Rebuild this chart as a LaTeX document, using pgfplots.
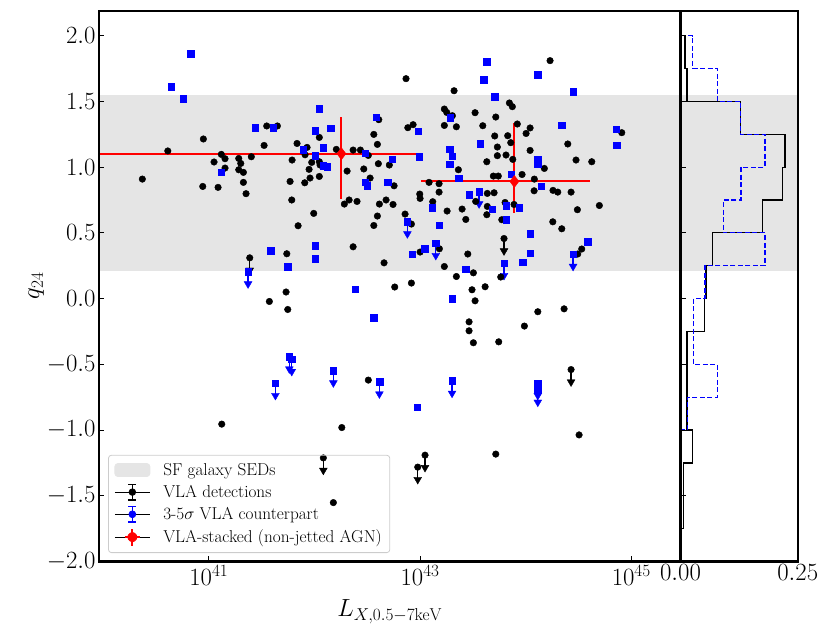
\documentclass[border=0pt]{standalone}
\usepackage{pgfplots}
\pgfplotsset{compat=1.18}
\usepackage{pgfplotstable}
\definecolor{bandgray}{RGB}{229,229,229}
\definecolor{legedge}{RGB}{204,204,204}

% black VLA detections: log10(L_X), q24
\pgfplotstableread{
lx q
41.548 1.313
41.649 1.313
40.948 1.214
41.523 1.165
41.835 1.180
40.611 1.123
41.118 1.097
41.153 1.064
41.283 1.066
41.402 1.079
41.049 1.039
41.302 1.028
41.788 1.054
41.153 0.993
41.283 0.980
41.327 0.960
40.370 0.909
40.942 0.853
41.087 0.846
41.327 0.884
41.769 0.891
41.352 0.798
41.785 0.750
42.867 1.673
43.322 1.581
43.230 1.442
43.253 1.416
43.306 1.391
42.609 1.361
43.521 1.414
42.884 1.300
42.934 1.323
43.230 1.317
43.344 1.307
43.594 1.315
42.562 1.249
42.046 1.226
42.596 1.173
41.930 1.150
42.207 1.135
42.366 1.130
42.435 1.130
42.510 1.089
41.911 1.094
41.974 1.036
42.046 1.041
42.053 1.016
43.632 1.041
42.605 1.026
42.709 1.016
41.949 0.983
42.309 0.970
42.467 0.986
42.046 0.929
41.958 0.917
42.527 0.917
43.363 0.980
41.908 0.881
42.754 0.858
43.085 0.884
43.180 0.874
43.180 0.810
42.997 0.795
43.000 0.762
42.283 0.719
42.328 0.750
42.403 0.739
42.615 0.719
42.678 0.750
42.744 0.716
43.120 0.737
43.398 0.681
43.527 0.739
43.637 0.800
43.637 0.701
44.231 1.810
43.846 1.488
43.874 1.460
43.717 1.381
43.921 1.328
44.042 1.298
44.004 1.256
43.707 1.237
43.830 1.239
43.859 1.186
44.399 1.176
44.910 1.262
43.732 1.153
44.042 1.127
43.732 1.087
43.814 1.092
43.878 1.059
44.477 1.054
44.626 1.041
44.177 0.990
43.694 0.932
43.741 0.932
43.966 0.944
44.082 0.909
44.080 0.820
44.259 0.823
44.304 0.810
44.430 0.810
43.701 0.805
43.805 0.731
43.890 0.716
44.698 0.708
44.490 0.676
41.845 0.554
41.738 0.341
41.573 -0.022
41.731 0.050
41.747 -0.083
41.993 0.648
42.596 0.628
42.562 0.556
42.858 0.643
42.918 0.567
43.256 0.666
43.433 0.602
43.632 0.638
42.366 0.394
43.183 0.379
43.000 0.354
43.452 0.339
42.659 0.272
43.230 0.244
43.505 0.196
43.344 0.168
42.918 0.118
42.760 0.088
43.616 0.090
43.492 0.067
43.521 -0.017
43.464 -0.177
43.464 -0.245
43.505 -0.336
42.510 -0.620
43.774 0.600
44.257 0.584
44.342 0.531
44.531 0.377
44.493 0.339
43.764 0.164
44.364 -0.078
44.115 -0.100
43.988 -0.209
43.745 -0.329
41.122 -0.955
42.259 -0.981
42.179 -1.552
43.717 -1.183
44.506 -1.037
}\blackdet

% black upper limits
\pgfplotstableread{
lx q
41.387 0.310
43.795 0.457
44.430 -0.540
42.084 -1.212
42.978 -1.282
43.047 -1.191
}\blacklim

% blue 3-5 sigma counterparts
\pgfplotstableread{
lx q
40.829 1.861
40.642 1.614
40.756 1.521
41.438 1.300
41.608 1.298
41.118 0.960
43.632 1.800
43.603 1.663
42.046 1.444
42.583 1.381
43.284 1.378
42.006 1.279
42.151 1.295
42.981 1.272
43.571 1.178
41.895 1.132
42.084 1.150
42.006 1.089
42.482 1.107
42.993 1.079
43.281 1.135
43.303 1.084
42.738 1.059
42.084 1.013
42.122 1.001
43.281 1.021
42.482 0.884
42.498 0.861
42.694 0.884
43.366 0.917
43.464 0.788
43.116 0.691
44.115 1.703
44.449 1.574
43.707 1.536
44.342 1.320
44.856 1.290
44.863 1.168
44.115 1.059
44.115 1.026
43.862 0.947
44.146 0.856
43.682 0.681
43.814 0.708
43.940 0.691
41.586 0.366
41.747 0.242
43.180 0.559
42.006 0.404
42.006 0.303
43.045 0.379
42.927 0.339
43.433 0.224
42.384 0.072
43.303 0.001
42.562 -0.146
43.814 0.600
44.042 0.495
44.588 0.435
44.042 0.346
43.973 0.278
42.972 -0.826
}\bluedet

% blue upper limits
\pgfplotstableread{
lx q
43.559 0.815
41.371 0.206
41.762 -0.441
41.785 -0.460
41.630 -0.643
42.880 0.587
43.149 0.422
42.179 -0.547
42.615 -0.631
43.303 -0.626
44.449 0.339
43.795 0.270
44.115 -0.643
44.115 -0.694
}\bluelim

\begin{document}
\begin{tikzpicture}
\useasboundingbox (0,0) rectangle (831bp,633bp);
\begin{axis}[
  at={(99bp,71.5bp)}, anchor=south west,
  scale only axis, width=581.5bp, height=550.8bp,
  xmode=log, xmin=9.12e39, xmax=2.93e45,
  ymin=-2, ymax=2.19,
  xtick={1e41,1e43,1e45}, xminorticks=false,
  ytick={-2,-1.5,-1,-0.5,0,0.5,1,1.5,2},
  yticklabel style={/pgf/number format/.cd, fixed, fixed zerofill, precision=1},
  tick label style={font=\fontsize{25}{30}\selectfont, black},
  label style={font=\fontsize{25}{30}\selectfont},
  tick align=inside, xtick pos=left, ytick pos=left,
  major tick length=5bp,
  every tick/.style={black, line width=1bp},
  axis line style={line width=2.2bp},
  axis on top,
  xlabel={$L_{X,0.5-7\mathrm{keV}}$},
  ylabel={$q_{24}$},
  xlabel style={at={(axis description cs:0.5,0)}, anchor=base, yshift=-55bp},
  ylabel style={at={(axis description cs:-0.108,0.5)}, anchor=center},
  legend cell align=left,
  legend style={at={(axis description cs:0.0155,0.0154)}, anchor=south west,
    draw=legedge, fill=none, line width=0.8bp, rounded corners=3bp,
    inner xsep=6bp, inner ysep=6bp, row sep=4.5bp,
    font=\fontsize{17.3}{20.8}\selectfont,
    /tikz/every odd column/.append style={column sep=11bp}},
]
% SF band
\addplot[fill=bandgray, draw=none, forget plot] coordinates {(1e39,0.21) (1e47,0.21) (1e47,1.55) (1e39,1.55)} -- cycle;

% legend entries
\addlegendimage{legend image code/.code={\fill[bandgray] (0bp,-6.5bp) rectangle (35bp,6.5bp);}}
\addlegendentry{SF galaxy SEDs}
\addlegendimage{legend image code/.code={
  \path (0bp,0bp) -- (35bp,0bp);
  \draw[black, line width=1.3bp] (17.5bp,-7.8bp) -- (17.5bp,7.8bp) (13.5bp,-7.8bp) -- (21.5bp,-7.8bp) (13.5bp,7.8bp) -- (21.5bp,7.8bp);
  \fill[black] (17.5bp,0bp) circle (3.3bp);}}
\addlegendentry{VLA detections}
\addlegendimage{legend image code/.code={
  \path (0bp,0bp) -- (35bp,0bp);
  \draw[blue, line width=1.3bp] (17.5bp,-7.8bp) -- (17.5bp,7.8bp) (13.5bp,-7.8bp) -- (21.5bp,-7.8bp) (13.5bp,7.8bp) -- (21.5bp,7.8bp);
  \fill[blue] (14.2bp,-3.3bp) rectangle (20.8bp,3.3bp);}}
\addlegendentry{3-5$\sigma$ VLA counterpart}
\addlegendimage{legend image code/.code={
  \path (0bp,0bp) -- (35bp,0bp);
  \draw[red, line width=2bp] (10bp,0bp) -- (25bp,0bp) (17.5bp,-8.5bp) -- (17.5bp,8.5bp);
  \fill[red] (17.5bp,-6bp) -- (23.5bp,0bp) -- (17.5bp,6bp) -- (11.5bp,0bp) -- cycle;}}
\addlegendentry{VLA-stacked (non-jetted AGN)}

% black detections
\addplot[only marks, mark=*, mark size=3.3bp, black, forget plot]
  table[x expr={10^(\thisrow{lx})}, y=q] {\blackdet};
% black upper limits
\addplot[only marks, mark=*, mark size=3.3bp, black, forget plot,
  error bars/.cd, y dir=minus, y fixed=0.103, error mark=triangle*,
  error bar style={line width=1.3bp, black},
  error mark options={rotate=270, mark size=4.5bp, black, fill=black}]
  table[x expr={10^(\thisrow{lx})}, y=q] {\blacklim};
% blue detections
\addplot[only marks, mark=square*, mark size=3.3bp, blue, forget plot]
  table[x expr={10^(\thisrow{lx})}, y=q] {\bluedet};
% blue upper limits
\addplot[only marks, mark=square*, mark size=3.3bp, blue, forget plot,
  error bars/.cd, y dir=minus, y fixed=0.103, error mark=triangle*,
  error bar style={line width=1.3bp, blue},
  error mark options={rotate=270, mark size=4.5bp, blue, fill=blue}]
  table[x expr={10^(\thisrow{lx})}, y=q] {\bluelim};

% VLA-stacked points with error bars
\addplot[red, line width=2bp, forget plot] coordinates {(1e39,1.102) (1e43,1.102)};
\addplot[red, line width=2bp, forget plot] coordinates {(1.80e42,1.378) (1.80e42,0.760)};
\addplot[red, line width=2bp, forget plot] coordinates {(1.016e43,0.891) (4.07e44,0.891)};
\addplot[red, line width=2bp, forget plot] coordinates {(7.82e43,1.336) (7.82e43,0.651)};
\addplot[only marks, mark=diamond*, mark size=6bp, red, forget plot] coordinates {(1.80e42,1.102) (7.82e43,0.891)};
\end{axis}

\begin{axis}[
  at={(680.5bp,71.5bp)}, anchor=south west,
  scale only axis, width=117.2bp, height=550.8bp,
  xmin=0, xmax=0.25, ymin=-2, ymax=2.19,
  xtick={0,0.25}, xticklabels={$0.00$,$0.25$},
  ytick={-2,-1.5,-1,-0.5,0,0.5,1,1.5,2}, yticklabels={},
  tick label style={font=\fontsize{25}{30}\selectfont, black},
  tick align=inside, xtick pos=left, ytick pos=left,
  major tick length=5bp,
  every tick/.style={black, line width=1bp},
  axis line style={line width=2.2bp},
  axis on top,
]
\addplot[fill=bandgray, draw=none] coordinates {(-1,0.21) (1,0.21) (1,1.55) (-1,1.55)} -- cycle;
% black histogram (fraction per bin of 0.25 in q24)
\addplot[black, line width=1.2bp] coordinates {
 (0,2.0) (0.0096,2.0) (0.0096,1.75) (0.0139,1.75) (0.0139,1.5) (0.1283,1.5)
 (0.1283,1.25) (0.2229,1.25) (0.2229,1.0) (0.2172,1.0) (0.2172,0.75) (0.1753,0.75)
 (0.1753,0.5) (0.0679,0.5) (0.0679,0.25) (0.0544,0.25) (0.0544,0) (0.0508,0)
 (0.0508,-0.25) (0.0139,-0.25) (0.0139,-1.0) (0.026,-1.0) (0.026,-1.25)
 (0.006,-1.25) (0.006,-1.75) (0,-1.75)};
% blue histogram
\addplot[blue, line width=1.2bp, dash pattern=on 5bp off 2.5bp] coordinates {
 (0,2.0) (0.026,2.0) (0.026,1.75) (0.0785,1.75) (0.0785,1.5) (0.1283,1.5)
 (0.1283,1.25) (0.1802,1.25) (0.1802,1.0) (0.129,1.0) (0.129,0.75) (0.0913,0.75)
 (0.0913,0.5) (0.1802,0.5) (0.1802,0.25) (0.0523,0.25) (0.0523,0) (0.0274,0)
 (0.0274,-0.5) (0.0785,-0.5) (0.0785,-0.75) (0.0146,-0.75) (0.0146,-1.0) (0,-1.0)};
\end{axis}
\end{tikzpicture}
\end{document}
